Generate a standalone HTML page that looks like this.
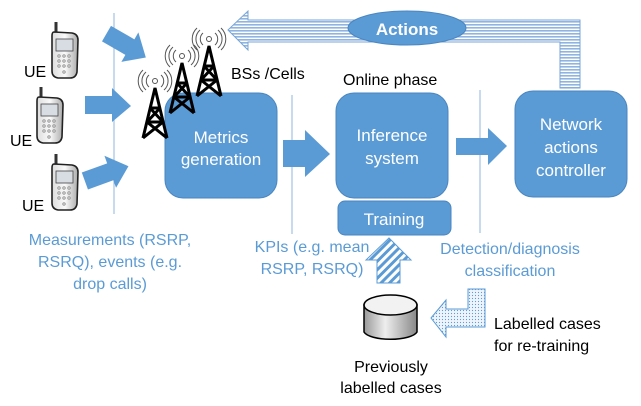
<!DOCTYPE html>
<html><head><meta charset="utf-8"><style>
html,body{margin:0;padding:0;background:#fff}
svg{display:block}
text{font-family:"Liberation Sans","DejaVu Sans",sans-serif}
</style></head><body>
<svg width="641" height="406" viewBox="0 0 641 406" xmlns="http://www.w3.org/2000/svg">
<defs>
<pattern id="hs" width="4" height="3" patternUnits="userSpaceOnUse"><rect width="4" height="3" fill="#fff"/><rect width="4" height="1.6" fill="#8fb4e0"/></pattern>
<pattern id="vs" width="3" height="4" patternUnits="userSpaceOnUse"><rect width="3" height="4" fill="#fff"/><rect width="3" height="1.6" fill="#8fb4e0"/></pattern>
<pattern id="ds" width="6" height="6" patternUnits="userSpaceOnUse" patternTransform="rotate(45)"><rect width="6" height="6" fill="#fff"/><rect width="3" height="6" fill="#5b9bd5"/></pattern>
<pattern id="dt" width="3" height="3" patternUnits="userSpaceOnUse"><rect width="3" height="3" fill="#eef4fb"/><circle cx="1.5" cy="1.5" r="0.6" fill="#5b9bd5"/></pattern>
<linearGradient id="cyl" x1="0" x2="1"><stop offset="0" stop-color="#999"/><stop offset="0.4" stop-color="#eee"/><stop offset="1" stop-color="#888"/></linearGradient>
<linearGradient id="ph" x1="0" x2="1"><stop offset="0" stop-color="#ddd"/><stop offset="0.5" stop-color="#fafafa"/><stop offset="1" stop-color="#aaa"/></linearGradient>
</defs>

<!-- thin vertical lines -->
<line x1="114" y1="13" x2="114" y2="214" stroke="#8fb4e0" stroke-width="1"/>
<line x1="292" y1="95" x2="292" y2="234" stroke="#8fb4e0" stroke-width="1"/>
<line x1="480" y1="90" x2="480" y2="233" stroke="#8fb4e0" stroke-width="1"/>

<!-- Actions arrow -->
<path d="M228,30 L248,11 L248,20 L580,20 L580,88 L560,88 L560,42 L248,42 L248,50 Z" fill="url(#hs)" stroke="#7aa6d6" stroke-width="1"/>
<rect x="560.5" y="42" width="19" height="46" fill="url(#vs)" opacity="0"/>
<ellipse cx="407" cy="28" rx="59" ry="17" fill="#5b9bd5" stroke="#4a86c0" stroke-width="1"/>
<text x="407" y="35" font-size="17" font-weight="bold" fill="#fff" text-anchor="middle">Actions</text>

<!-- boxes -->
<rect x="165" y="93" width="112" height="105" rx="18" fill="#5b9bd5" stroke="#4a86c0"/>
<text x="221" y="143" font-size="17" fill="#fff" text-anchor="middle">Metrics</text>
<text x="221" y="165" font-size="17" fill="#fff" text-anchor="middle">generation</text>
<rect x="336" y="93" width="112" height="105" rx="18" fill="#5b9bd5" stroke="#4a86c0"/>
<text x="392" y="141" font-size="17" fill="#fff" text-anchor="middle">Inference</text>
<text x="392" y="164" font-size="17" fill="#fff" text-anchor="middle">system</text>
<rect x="338" y="201" width="113" height="34" rx="7" fill="#5b9bd5" stroke="#4a86c0"/>
<text x="394" y="225" font-size="17" fill="#fff" text-anchor="middle">Training</text>
<rect x="515" y="91" width="112" height="106" rx="18" fill="#5b9bd5" stroke="#4a86c0"/>
<text x="571" y="130" font-size="17" fill="#fff" text-anchor="middle">Network</text>
<text x="571" y="153" font-size="17" fill="#fff" text-anchor="middle">actions</text>
<text x="571" y="176" font-size="17" fill="#fff" text-anchor="middle">controller</text>

<!-- block arrows -->
<path d="M283,140 L305,140 L305,130 L330,154 L305,177 L305,167 L283,167 Z" fill="#5b9bd5"/>
<path d="M456,138 L488,138 L488,128 L507,146 L488,165 L488,155 L456,155 Z" fill="#5b9bd5"/>
<path d="M85,104 L112,104 L112,96 L131,114 L112,130 L112,122 L85,122 Z" fill="#5b9bd5" transform="translate(0,-8)"/>
<path d="M85,104 L112,104 L112,96 L131,114 L112,130 L112,122 L85,122 Z" fill="#5b9bd5" transform="rotate(30 108 113) translate(-18,-68)"/>
<path d="M85,104 L112,104 L112,96 L131,114 L112,130 L112,122 L85,122 Z" fill="#5b9bd5" transform="rotate(-20 108 113) translate(-22,56)"/>

<!-- phones -->
<g id="phone">
<line x1="56" y1="22" x2="56" y2="36" stroke="#333" stroke-width="3"/>
<path d="M54,32 L72,33 Q78,34 78,40 L77,72 Q76,78 70,78 L58,78 Q52,77 52,71 L52,36 Q52,32 54,32 Z" fill="url(#ph)" stroke="#222" stroke-width="1.6"/>
<rect x="56" y="39" width="17" height="12" fill="#d8dde3" stroke="#444" stroke-width="0.8"/>
<g fill="#bbb" stroke="#777" stroke-width="0.4"><circle cx="59" cy="56" r="1.5"/><circle cx="64" cy="56" r="1.5"/><circle cx="69" cy="56" r="1.5"/><circle cx="59" cy="61" r="1.5"/><circle cx="64" cy="61" r="1.5"/><circle cx="69" cy="61" r="1.5"/><circle cx="59" cy="66" r="1.5"/><circle cx="64" cy="66" r="1.5"/><circle cx="69" cy="66" r="1.5"/><circle cx="64" cy="72" r="1.5"/></g>
</g>
<use href="#phone" transform="translate(-15,65)"/>
<use href="#phone" transform="translate(0,132)"/>
<text x="24" y="77" font-size="16" fill="#000">UE</text>
<text x="10" y="146" font-size="16" fill="#000">UE</text>
<text x="22" y="211" font-size="16" fill="#000">UE</text>

<!-- towers -->
<g id="tower" fill="none" stroke="#000" stroke-width="3">
<path d="M143,138 L155,88 L167,138"/>
<path d="M147,122 L163,122 M150,108 L160,108 M147,122 L160,108 M163,122 L150,108 M143,138 L163,122 M167,138 L147,122"/>
<g stroke="#555" stroke-width="1"><circle cx="155" cy="81" r="2.5"/>
<path d="M149,75 A8,8 0 0 0 149,87 M161,75 A8,8 0 0 1 161,87 M146,72 A12,12 0 0 0 146,90 M164,72 A12,12 0 0 1 164,90 M143,70 A15,15 0 0 0 143,92 M167,70 A15,15 0 0 1 167,92"/></g>
</g>
<use href="#tower" transform="translate(27,-25)"/>
<use href="#tower" transform="translate(54,-42)"/>
<text x="231" y="79" font-size="16" fill="#000">BSs /Cells</text>
<text x="343" y="85" font-size="16" fill="#000">Online phase</text>

<!-- labels blue -->
<g fill="#5b9bd5" font-size="16" text-anchor="middle">
<text x="110" y="245">Measurements (RSRP,</text>
<text x="110" y="267">RSRQ), events (e.g.</text>
<text x="110" y="289">drop calls)</text>
<text x="312" y="252">KPIs (e.g. mean</text>
<text x="312" y="274">RSRP, RSRQ)</text>
<text x="510" y="254">Detection/diagnosis</text>
<text x="510" y="276">classification</text>
</g>
<g fill="#000" font-size="16">
<text x="494" y="329">Labelled cases</text>
<text x="494" y="351">for re-training</text>
<text x="391" y="372" text-anchor="middle">Previously</text>
<text x="391" y="393" text-anchor="middle">labelled cases</text>
</g>

<!-- up striped arrow -->
<path d="M389,238 L411,260 L400,260 L400,283 L377,283 L377,260 L366,260 Z" fill="url(#ds)" stroke="#5b9bd5" stroke-width="1"/>
<!-- dotted L arrow -->
<path d="M431,318 L446,300 L446,309 L468,309 L468,289 L485,289 L485,327 L446,327 L446,337 Z" fill="url(#dt)" stroke="#5b9bd5" stroke-width="1"/>
<!-- cylinder -->
<path d="M364,305 L364,332 A27,9 0 0 0 417,332 L417,305 Z" fill="url(#cyl)" stroke="#000" stroke-width="1.5"/>
<ellipse cx="390.5" cy="305" rx="26.5" ry="10" fill="#f2f2f2" stroke="#000" stroke-width="1.5"/>
</svg>
</body></html>
